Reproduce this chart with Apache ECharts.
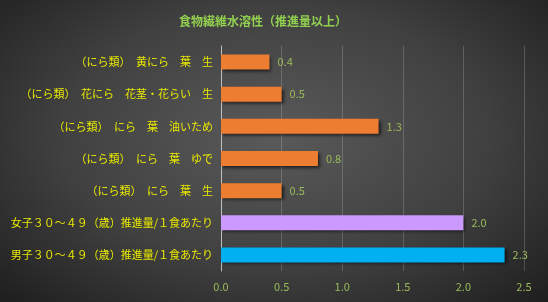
<!DOCTYPE html>
<html>
<head>
<meta charset="utf-8">
<style>
  html, body { margin: 0; padding: 0; }
  #chart {
    width: 548px;
    height: 302px;
    background: radial-gradient(ellipse at 50% 45%, #5a5a5a 0%, #404040 55%, #1e1e1e 100%);
  }
</style>
<script src="https://cdn.jsdelivr.net/npm/echarts@6/dist/echarts.min.js"></script>
</head>
<body>
<div id="chart"></div>
<script>
const categories = [
  '（にら類）　黄にら　葉　生',
  '（にら類）　花にら　花茎・花らい　生',
  '（にら類）　にら　葉　油いため',
  '（にら類）　にら　葉　ゆで',
  '（にら類）　にら　葉　生',
  '女子３０～４９（歳）推進量/１食あたり',
  '男子３０～４９（歳）推進量/１食あたり'
]
const values = [0.4, 0.5, 1.3, 0.8, 0.5, 2.0, 2.34]
const barColors = ['#ED7D31', '#ED7D31', '#ED7D31', '#ED7D31', '#ED7D31', '#CC99FF', '#00B0F0']

const chart = echarts.init(document.getElementById('chart'))

const options = {
  title: {
    text: '食物繊維水溶性（推進量以上）',
    left: 258,
    textAlign: 'center',
    top: 10,
    textStyle: {
      color: '#92D050',
      fontSize: 12,
      fontWeight: 'bold',
      fontFamily: 'Noto Sans CJK JP'
    }
  },
  grid: {
    left: 221,
    right: 24,
    top: 46,
    bottom: 31
  },
  xAxis: {
    type: 'value',
    min: 0,
    max: 2.5,
    interval: 0.5,
    axisLine: { show: false },
    axisTick: { show: false },
    axisLabel: {
      color: '#9BBB59',
      fontSize: 11,
      fontFamily: 'Noto Sans CJK JP',
      margin: 10,
      formatter: v => v.toFixed(1)
    },
    splitLine: {
      lineStyle: { color: 'rgba(255, 255, 255, 0.18)' }
    }
  },
  yAxis: {
    type: 'category',
    data: categories,
    inverse: true,
    axisLine: { lineStyle: { color: '#bfbfbf' } },
    axisTick: { show: false },
    axisLabel: {
      color: '#E8E800',
      fontSize: 11,
      fontFamily: 'Noto Sans CJK JP',
      margin: 8
    }
  },
  series: [
    {
      type: 'bar',
      data: values.map((v, i) => ({
        value: v,
        itemStyle: { color: barColors[i] }
      })),
      barWidth: 15,
      itemStyle: {
        shadowColor: 'rgba(0, 0, 0, 0.6)',
        shadowBlur: 3,
        shadowOffsetX: 2,
        shadowOffsetY: 2
      },
      label: {
        show: true,
        position: 'right',
        distance: 8,
        color: '#9BBB59',
        fontSize: 11,
        fontFamily: 'Noto Sans CJK JP',
        formatter: p => p.value.toFixed(1)
      }
    }
  ]
}

chart.setOption(options)
</script>
</body>
</html>
